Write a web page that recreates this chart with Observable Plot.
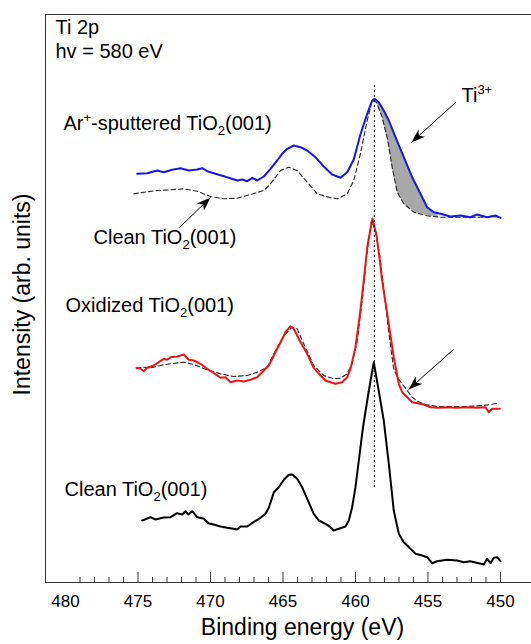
<!DOCTYPE html>
<html><head><meta charset="utf-8">
<script src="https://cdn.jsdelivr.net/npm/d3@7"></script>
<script src="https://cdn.jsdelivr.net/npm/@observablehq/plot@0.6"></script>
<style>body{margin:0;background:#fff} svg{display:block}</style>
</head><body><div id="chart"></div>
<script>
const FONT = '"Liberation Sans", Arial, Helvetica, sans-serif';

// ---- Data: [binding energy (eV), intensity (arb. units, offset stacked)] ----
const cleanBottom = [
 [474.71,62],[474.14,65.3],[473.79,63],[473.24,65],[472.76,65.3],[472.30,69.3],[471.95,68],[471.72,71.3],
 [471.52,68],[471.26,71.3],[470.92,65.3],[470.48,64],[470.14,59.3],[469.79,58],[469.31,56],[468.85,54.7],
 [468.41,53.7],[468.16,53],[467.93,56],[467.47,56],[467.03,60.3],[466.55,64.7],[466.21,68.7],[465.98,74.7],
 [465.63,90.3],[465.29,95.3],[464.94,102.7],[464.60,107.7],[464.37,108],[464.02,103.7],[463.68,95.3],
 [463.33,83.7],[462.88,68.7],[462.53,62],[462.07,58.7],[461.72,55.3],[461.50,52],[461.15,53.7],[460.69,56],
 [460.46,62],[460.23,75.3],[460.00,95.3],[459.77,122],[459.54,148.7],[459.43,160],[459.10,190],[458.74,220.3],
 [458.40,192],[458.05,162],[457.70,118.7],[457.36,72],[457.01,48.7],[456.67,40.3],[456.21,33.7],[455.86,28.7],
 [455.40,27],[455.06,25.3],[454.71,19.3],[454.37,21.3],[453.68,22.7],[452.99,22],[452.53,20.3],[452.07,21.3],
 [451.50,19.3],[451.15,18],[450.92,23.7],[450.69,19.3],[450.46,24.7],[450.23,25.3],[450.00,21.3]
];
const oxidized = [
 [475.10,214.7],[474.83,213.7],[474.60,211.3],[474.37,214.7],[473.91,217],[473.57,220.3],[473.22,223.7],
 [472.99,222.7],[472.76,225.3],[472.30,226],[471.84,228],[471.50,222.7],[471.15,222],[470.69,218.7],
 [470.23,213.7],[469.77,209.3],[469.31,204.7],[468.97,205.3],[468.62,200.3],[468.16,202],[467.70,201],
 [467.24,202.7],[466.78,205.3],[466.32,212],[465.98,217],[465.63,227],[465.17,240.3],[464.83,250.3],
 [464.48,256.3],[464.26,253.7],[463.79,240.3],[463.33,228.7],[462.88,214.7],[462.41,207],[462.07,202],
 [461.72,200.3],[461.38,198.7],[460.92,200.3],[460.57,205.3],[460.34,213.7],[460.00,235.3],[459.66,272],
 [459.43,302],[459.17,337],[458.83,364],[458.55,347],[458.34,324],[458.16,302],[457.81,268.7],[457.36,225.3],
 [457.01,198.7],[456.78,190.3],[456.43,185.3],[456.09,180.3],[455.74,179.3],[455.29,178],[454.83,175.3],
 [454.37,174.7],[453.68,175.3],[452.99,174.7],[452.30,175.3],[451.61,174.7],[451.03,175.3],[450.81,170.3],
 [450.57,173.7],[450.05,173.7]
];
const oxidizedRef = [
 [475.10,213.7],[474.71,215.3],[474.14,214.7],[473.45,217],[472.76,218.7],[471.84,220.3],[471.15,218],
 [470.23,212.7],[469.31,208.7],[468.39,206],[467.47,207],[466.78,210.3],[466.09,215.3],[465.40,235.3],
 [464.83,248.7],[464.37,255.3],[464.02,253.7],[463.57,238.7],[462.88,217],[462.19,207],[461.50,203.7],
 [461.03,204.3],[460.57,208.7],[460.23,218.7],[459.88,242],[459.54,282],[459.24,325],[458.90,362],
 [458.62,352],[458.34,328],[458.05,294],[457.72,252],[457.38,215],[457.12,205.3],[456.78,198.7],
 [456.43,192],[456.09,185.3],[455.74,181.3],[455.17,178],[454.37,176],[453.45,176],[452.30,176],
 [451.15,177],[450.12,179.3]
];
const sputtered = [
 [475.06,408.7],[474.37,409.3],[473.68,412],[473.22,410.3],[472.64,412.7],[472.07,414.3],[471.50,412],
 [470.92,413],[470.57,414.3],[470.23,411.3],[469.66,408.7],[468.85,405.3],[468.16,402],[467.81,403],
 [467.47,401.3],[467.12,404.7],[466.78,402],[466.32,406],[465.86,413.7],[465.40,422],[465.06,428.7],
 [464.71,433.7],[464.26,437],[463.79,435.3],[463.33,432],[462.76,425.3],[462.19,416],[461.61,408],
 [461.03,404.7],[460.57,410.3],[460.12,423],[459.66,448],[459.19,468.7],[458.85,482],[458.69,483.7],
 [458.39,480.3],[458.05,472],[457.70,462],[457.24,445.3],[456.67,425.3],[456.09,405.3],[455.52,388.7],
 [455.06,375.3],[454.60,370.3],[454.14,368.7],[453.45,366],[452.76,367],[452.07,365.3],[451.61,368],
 [450.92,365.3],[450.34,367],[450.00,364.7]
];
const sputteredRef = [
 [475.29,388.7],[474.60,390.3],[473.68,392],[472.76,392.7],[471.84,393.7],[470.92,391.3],[470.00,386],
 [469.08,383.7],[468.16,384.3],[467.24,388],[466.32,392],[465.86,398.7],[465.17,412],[464.60,415.3],
 [464.02,412],[463.33,400.3],[462.64,388.7],[461.72,384.7],[461.26,383.7],[460.57,388.7],[460.12,402],
 [459.66,428.7],[459.19,462],[458.85,482],[458.55,480.3],[458.16,465.3],[457.77,442],[457.47,415.3],
 [457.12,390.3],[456.67,378.7],[455.98,370.3],[455.06,366.7],[454.14,365.3],[452.76,365.3],[451.38,365.3],
 [450.00,366]
];

// Ti3+ shaded range (eV)
const shadeRange = [458.72, 454.3];
// dotted reference line at the Ti4+ 2p3/2 peak
const peakLine = [{x: 458.7, y1: 95, y2: 497}];

const xDomain = [481.38, 447.86];
const yDomain = [0, 568];
const majorTicks = [475, 470, 465, 460, 455, 450];
const minorTicks = [479,478,477,476,474,473,472,471,469,468,467,466,464,463,462,461,459,458,457,456,454,453,452,451];
const tickLabels = [480, 475, 470, 465, 460, 455, 450];

const curveLabels = [
 {label: "Ar^{+}-sputtered TiO_{2}(001)", x: 480.14, y: 459},
 {label: "Clean TiO_{2}(001)", x: 478.07, y: 345},
 {label: "Oxidized TiO_{2}(001)", x: 480.0, y: 276.5},
 {label: "Clean TiO_{2}(001)", x: 480.07, y: 93},
 {label: "Ti^{3+}", x: 452.69, y: 487}
];
const arrows = [
 {x1: 453.10, y1: 480, x2: 456.14, y2: 440},
 {x1: 472.14, y1: 355, x2: 470.00, y2: 385},
 {x1: 453.24, y1: 233, x2: 456.34, y2: 193}
];

// ---- helpers ----
function interp(pts, x) {
  for (let i = 0; i < pts.length - 1; i++) {
    const [xa, ya] = pts[i], [xb, yb] = pts[i + 1];
    if ((x <= xa && x >= xb) || (x >= xa && x <= xb)) {
      const t = xa === xb ? 0 : (x - xa) / (xb - xa);
      return ya + t * (yb - ya);
    }
  }
  return pts[pts.length - 1][1];
}
const shadeXs = Array.from(new Set([...sputtered, ...sputteredRef].map(d => d[0])
  .filter(x => x <= shadeRange[0] && x >= shadeRange[1]).concat(shadeRange)))
  .sort((a, b) => b - a);
const shade = shadeXs.map(x => ({x, y1: interp(sputteredRef, x), y2: interp(sputtered, x)}));

const xy = {x: d => d[0], y: d => d[1]};

const chart = Plot.plot({
  width: 531, height: 644,
  marginTop: 14, marginBottom: 62, marginLeft: 45, marginRight: 0,
  x: {domain: xDomain, axis: null},
  y: {domain: yDomain, axis: null},
  style: {fontFamily: FONT, background: "white", color: "black", overflow: "visible"},
  marks: [
    Plot.areaY(shade, {x: "x", y1: "y1", y2: "y2", fill: "#a8a8a8"}),
    Plot.line(sputteredRef, {...xy, stroke: "#222", strokeWidth: 1.1, strokeDasharray: "4.5,3"}),
    Plot.line(oxidizedRef, {...xy, stroke: "#222", strokeWidth: 1.1, strokeDasharray: "4.5,3"}),
    Plot.line(sputtered, {...xy, stroke: "#1616e8", strokeWidth: 2}),
    Plot.line(oxidized, {...xy, stroke: "#e81616", strokeWidth: 2}),
    Plot.line(cleanBottom, {...xy, stroke: "#000", strokeWidth: 2}),
    Plot.ruleX(peakLine, {x: "x", y1: "y1", y2: "y2", stroke: "#000", strokeWidth: 1, strokeDasharray: "2,3"}),
    Plot.link(arrows, {x1: "x1", y1: "y1", x2: "x2", y2: "y2", stroke: "#000", strokeWidth: 1}),
    // frame (left, top, bottom)
    Plot.ruleX([xDomain[0]], {stroke: "#333", strokeWidth: 1}),
    Plot.ruleY([yDomain[1]], {stroke: "#333", strokeWidth: 1}),
    Plot.ruleY([yDomain[0]], {stroke: "#333", strokeWidth: 1}),
    // inward ticks
    Plot.ruleX(majorTicks, {x: d => d, insetTop: 558, stroke: "#333"}),
    Plot.ruleX(minorTicks, {x: d => d, insetTop: 563, stroke: "#333"}),
    Plot.text(tickLabels, {x: d => d, text: d => String(d), frameAnchor: "bottom", lineAnchor: "middle", dy: 19, fontSize: 17}),
    Plot.text(["Binding energy (eV)"], {frameAnchor: "bottom", lineAnchor: "middle", textAnchor: "middle", dx: 14, dy: 45, fontSize: 23}),
    Plot.text(["Intensity (arb. units)"], {frameAnchor: "left", textAnchor: "middle", lineAnchor: "middle", rotate: -90, dx: -23, dy: -4, fontSize: 23}),
    Plot.text(["Ti 2p"], {frameAnchor: "top-left", textAnchor: "start", lineAnchor: "middle", dx: 10, dy: 13, fontSize: 20}),
    Plot.text(["hv = 580 eV"], {frameAnchor: "top-left", textAnchor: "start", lineAnchor: "middle", dx: 10, dy: 37, fontSize: 20}),
    Plot.text(curveLabels, {x: "x", y: "y", text: "label", textAnchor: "start", lineAnchor: "middle", fontSize: 20})
  ]
});

// filled arrowheads
const ns = "http://www.w3.org/2000/svg";
const defs = document.createElementNS(ns, "defs");
defs.innerHTML = '<marker id="ah" viewBox="0 0 14 10" refX="14" refY="5" markerWidth="14" markerHeight="10" markerUnits="userSpaceOnUse" orient="auto"><path d="M0,0 L14,5 L0,10 L4,5 z" fill="black"/></marker>';
chart.insertBefore(defs, chart.firstChild);
chart.querySelectorAll('g[aria-label="link"] path, g[aria-label="link"] line').forEach(p => p.setAttribute("marker-end", "url(#ah)"));

// sub/superscripts
chart.querySelectorAll("text, tspan").forEach(el => {
  if (el.childNodes.length !== 1 || el.firstChild.nodeType !== 3) return;
  const s = el.textContent;
  if (!/[_^]\{/.test(s)) return;
  el.textContent = "";
  const re = /([_^])\{([^}]*)\}/g;
  let last = 0, m, shift = 0;
  const add = (txt, size, dy) => {
    const t = document.createElementNS(ns, "tspan");
    if (size) t.setAttribute("font-size", size);
    if (dy) t.setAttribute("dy", dy);
    t.textContent = txt;
    el.appendChild(t);
  };
  while ((m = re.exec(s))) {
    if (m.index > last) { add(s.slice(last, m.index), null, -shift); shift = 0; }
    const d = m[1] === "_" ? 5 : -8;
    add(m[2], "65%", d - shift);
    shift = d;
    last = re.lastIndex;
  }
  if (last < s.length) add(s.slice(last), null, -shift);
});

document.getElementById("chart").appendChild(chart);
</script>
</body></html>
